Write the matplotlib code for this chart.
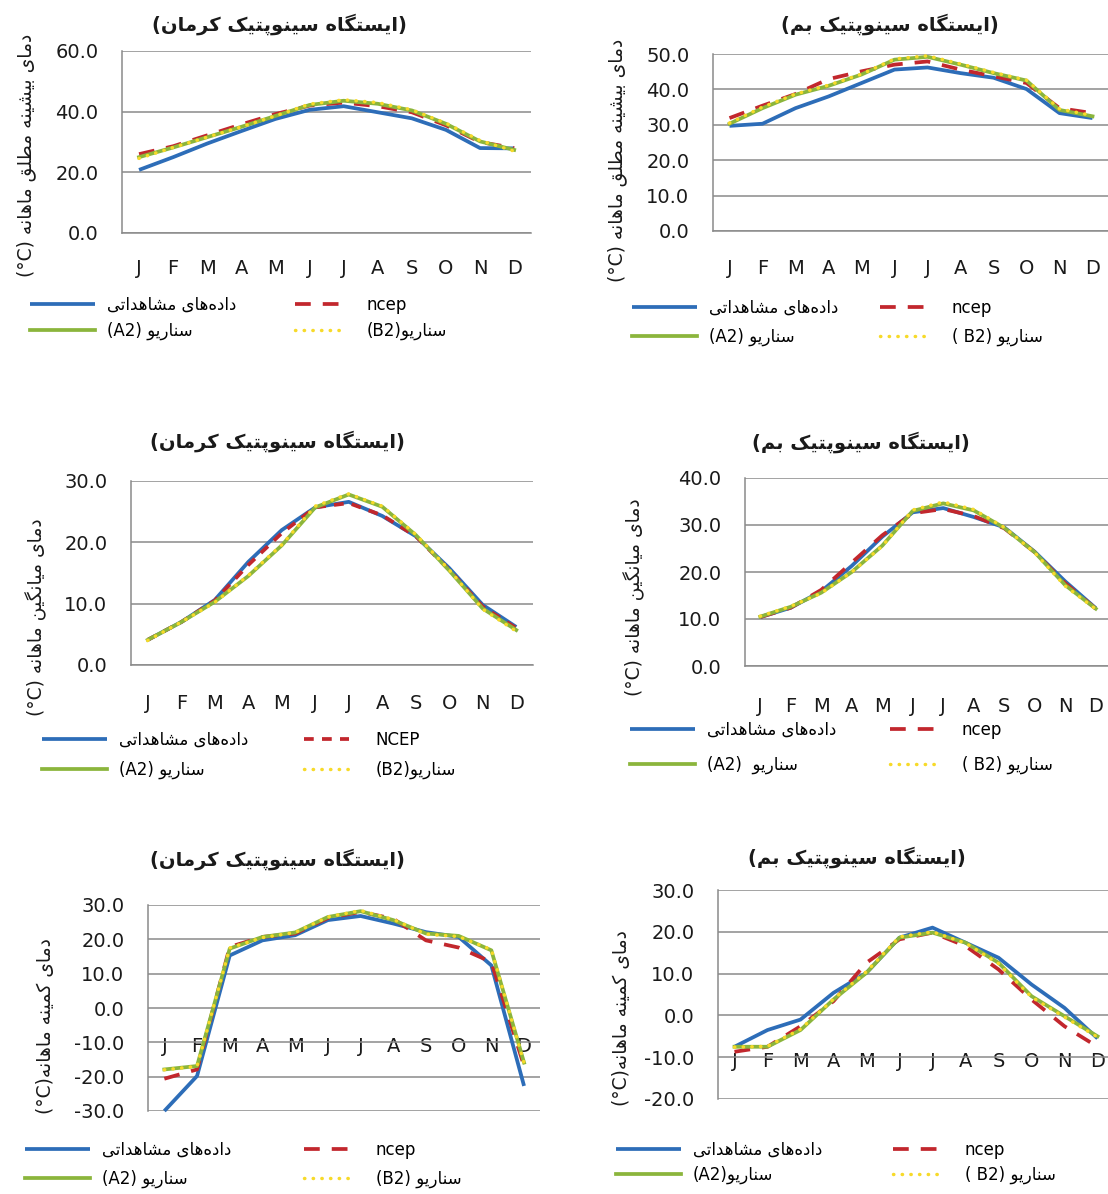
import re
import matplotlib
matplotlib.use("Agg")
import matplotlib.pyplot as plt
from matplotlib.ticker import FormatStrFormatter

plt.rcParams['font.family'] = ['DejaVu Sans']
plt.rcParams['axes.unicode_minus'] = False

# ---------------- data ----------------
months = ['J', 'F', 'M', 'A', 'M', 'J', 'J', 'A', 'S', 'O', 'N', 'D']

kerman_max_obs = [20.8, 25.0, 29.5, 33.6, 37.6, 40.6, 41.8, 39.8, 37.8, 34.0, 28.0, 27.9]
kerman_max_ncep = [26.0, 28.6, 32.2, 35.8, 39.2, 42.0, 43.0, 41.8, 39.8, 35.5, 30.0, 28.0]
kerman_max_a2 = [25.0, 28.2, 31.6, 35.0, 38.6, 42.2, 43.6, 42.6, 40.4, 36.0, 30.2, 27.4]
kerman_max_b2 = [24.6, 28.2, 31.6, 35.0, 38.6, 42.5, 43.9, 43.0, 40.6, 36.2, 30.5, 27.0]

bam_max_obs = [29.7, 30.3, 34.7, 38.0, 41.8, 45.6, 46.2, 44.6, 43.3, 40.1, 33.3, 31.9]
bam_max_ncep = [31.9, 35.4, 38.7, 42.9, 45.1, 47.0, 47.9, 45.6, 43.7, 41.8, 34.7, 33.3]
bam_max_a2 = [30.3, 34.7, 38.5, 41.0, 44.2, 48.4, 49.2, 47.0, 44.6, 42.5, 34.2, 32.4]
bam_max_b2 = [30.5, 35.0, 38.7, 41.2, 44.3, 48.6, 49.5, 47.2, 44.8, 42.6, 34.5, 32.6]

kerman_mean_obs = [4.1, 7.0, 10.6, 16.8, 22.0, 25.7, 26.6, 24.3, 21.0, 15.8, 9.8, 6.2]
kerman_mean_ncep = [4.1, 7.0, 10.5, 16.3, 21.5, 25.7, 26.4, 24.4, 21.0, 15.5, 9.5, 6.0]
kerman_mean_a2 = [4.1, 7.0, 10.3, 14.5, 19.5, 25.7, 27.8, 25.8, 21.2, 15.4, 9.2, 5.7]
kerman_mean_b2 = [4.0, 7.0, 10.2, 14.6, 19.6, 25.9, 27.9, 25.9, 21.3, 15.5, 9.1, 5.5]

bam_mean_obs = [10.4, 12.4, 15.9, 21.3, 27.5, 32.7, 33.6, 31.7, 29.5, 24.3, 18.0, 12.3]
bam_mean_ncep = [10.4, 12.4, 16.2, 22.0, 27.8, 32.5, 33.4, 31.9, 29.3, 24.2, 17.6, 12.2]
bam_mean_a2 = [10.5, 12.6, 15.6, 20.0, 25.6, 33.0, 34.6, 33.1, 29.4, 24.2, 17.2, 12.2]
bam_mean_b2 = [10.6, 12.7, 15.5, 20.0, 25.5, 33.2, 34.9, 33.3, 29.5, 24.1, 17.0, 12.1]

kerman_min_obs = [-30.0, -19.8, 15.3, 19.7, 21.2, 25.6, 26.8, 24.6, 22.1, 20.7, 12.4, -22.7]
kerman_min_ncep = [-20.6, -17.9, 17.8, 20.7, 21.7, 26.2, 28.0, 26.0, 19.7, 17.6, 13.4, -16.9]
kerman_min_a2 = [-17.9, -16.9, 17.3, 20.7, 22.0, 26.5, 28.2, 25.6, 21.7, 21.0, 16.8, -15.9]
kerman_min_b2 = [-18.0, -17.0, 17.5, 20.5, 22.0, 26.5, 28.4, 25.8, 21.5, 20.8, 17.0, -16.0]

bam_min_obs = [-7.5, -3.5, -1.0, 5.4, 10.2, 18.6, 21.0, 17.4, 13.8, 7.4, 1.8, -5.5]
bam_min_ncep = [-8.7, -7.5, -2.6, 3.4, 12.6, 18.2, 19.8, 16.6, 11.0, 3.8, -2.6, -7.5]
bam_min_a2 = [-7.5, -7.5, -3.5, 3.8, 10.2, 18.6, 19.8, 17.4, 12.6, 4.6, -0.2, -5.0]
bam_min_b2 = [-7.6, -7.4, -3.3, 3.9, 10.5, 18.8, 20.0, 17.3, 12.4, 4.4, -0.4, -5.2]

title_kerman = "(ایستگاه سینوپتیک کرمان)"
title_bam = "(ایستگاه سینوپتیک بم)"
ylabel_max = "دمای بیشینه مطلق ماهانه (C°)"
ylabel_mean = "دمای میانگین ماهانه (C°)"
ylabel_min = "دمای کمینه ماهانه(C°)"
label_obs = "داده\u200cهای مشاهداتی"

yticks_kerman_max = [0, 20, 40, 60]
yticks_bam_max = [0, 10, 20, 30, 40, 50]
yticks_kerman_mean = [0, 10, 20, 30]
yticks_bam_mean = [0, 10, 20, 30, 40]
yticks_kerman_min = [-30, -20, -10, 0, 10, 20, 30]
yticks_bam_min = [-20, -10, 0, 10, 20, 30]

# ---------------- Persian shaping helper ----------------
FORMS = {
    '\u0627': ('\uFE8D', '\uFE8E'),
    '\u0628': ('\uFE8F', '\uFE90', '\uFE91', '\uFE92'),
    '\u067E': ('\uFB56', '\uFB57', '\uFB58', '\uFB59'),
    '\u062A': ('\uFE95', '\uFE96', '\uFE97', '\uFE98'),
    '\u062F': ('\uFEA9', '\uFEAA'),
    '\u0631': ('\uFEAD', '\uFEAE'),
    '\u0632': ('\uFEAF', '\uFEB0'),
    '\u0633': ('\uFEB1', '\uFEB2', '\uFEB3', '\uFEB4'),
    '\u0634': ('\uFEB5', '\uFEB6', '\uFEB7', '\uFEB8'),
    '\u0637': ('\uFEC1', '\uFEC2', '\uFEC3', '\uFEC4'),
    '\u0642': ('\uFED5', '\uFED6', '\uFED7', '\uFED8'),
    '\u06A9': ('\uFB8E', '\uFB8F', '\uFB90', '\uFB91'),
    '\u06AF': ('\uFB92', '\uFB93', '\uFB94', '\uFB95'),
    '\u0644': ('\uFEDD', '\uFEDE', '\uFEDF', '\uFEE0'),
    '\u0645': ('\uFEE1', '\uFEE2', '\uFEE3', '\uFEE4'),
    '\u0646': ('\uFEE5', '\uFEE6', '\uFEE7', '\uFEE8'),
    '\u0647': ('\uFEE9', '\uFEEA', '\uFEEB', '\uFEEC'),
    '\u0648': ('\uFEED', '\uFEEE'),
    '\u06CC': ('\uFBFC', '\uFBFD', '\uFBFE', '\uFBFF'),
}


def shape(s):
    s = s.replace('\u064A', '\u06CC').replace('\u0643', '\u06A9')
    out = []
    for i, c in enumerate(s):
        f = FORMS.get(c)
        if f is None:
            out.append(c)
            continue
        prev = s[i - 1] if i > 0 else None
        nxt = s[i + 1] if i + 1 < len(s) else None
        jp = prev in FORMS and len(FORMS[prev]) == 4
        jn = len(f) == 4 and nxt in FORMS
        if jp and jn:
            out.append(f[3])
        elif jp:
            out.append(f[1])
        elif jn:
            out.append(f[2])
        else:
            out.append(f[0])
    return ''.join(out)


def rtl(s):
    shaped = shape(s)
    tokens = re.findall(r'[A-Za-z0-9]+|[^A-Za-z0-9]+', shaped)
    mirror = str.maketrans('()', ')(')
    if all(re.match(r'[A-Za-z0-9]', t) for t in tokens):
        return shaped
    res = []
    for t in reversed(tokens):
        if re.match(r'[A-Za-z0-9]', t):
            res.append(t)
        else:
            res.append(t[::-1].translate(mirror))
    return ''.join(res).replace('\u200c', '')


# ---------------- layout ----------------
W, H = 1108, 1194
fig = plt.figure(figsize=(W / 100, H / 100), dpi=100)

COL_OBS = '#2d6db8'
COL_NCEP = '#c2272d'
COL_A2 = '#8bb53c'
COL_B2 = '#f7da2a'
GRID = '#8a8a8a'

panels = [
    dict(obs=kerman_max_obs, ncep=kerman_max_ncep, a2=kerman_max_a2, b2=kerman_max_b2,
         yt=yticks_kerman_max, title=title_kerman, ylabel=ylabel_max,
         ncep_lab="ncep", a2_lab="سناریو (A2)", b2_lab="سناریو(B2)", dash=(4.2, 3.2),
         left=122, top=51, bottom=233, sp=34.1, xpad=19, mid=False,
         tpos=(279, 24), ypos=(26, 155), leg=(30, 295, 296), lsp=0.45),
    dict(obs=bam_max_obs, ncep=bam_max_ncep, a2=bam_max_a2, b2=bam_max_b2,
         yt=yticks_bam_max, title=title_bam, ylabel=ylabel_max,
         ncep_lab="ncep", a2_lab="سناریو (A2)", b2_lab="سناریو (B2 )", dash=(4.2, 3.2),
         left=713, top=54, bottom=231, sp=33.0, xpad=20.5, mid=False,
         tpos=(890, 24), ypos=(617, 160), leg=(632, 880, 299), lsp=0.65),
    dict(obs=kerman_mean_obs, ncep=kerman_mean_ncep, a2=kerman_mean_a2, b2=kerman_mean_b2,
         yt=yticks_kerman_mean, title=title_kerman, ylabel=ylabel_mean,
         ncep_lab="NCEP", a2_lab="سناریو (A2)", b2_lab="سناریو(B2)", dash=(2.6, 2.2),
         left=131, top=481, bottom=665, sp=33.5, xpad=21, mid=False,
         tpos=(277, 441), ypos=(36, 617), leg=(42, 304, 731), lsp=0.7),
    dict(obs=bam_mean_obs, ncep=bam_mean_ncep, a2=bam_mean_a2, b2=bam_mean_b2,
         yt=yticks_bam_mean, title=title_bam, ylabel=ylabel_mean,
         ncep_lab="ncep", a2_lab="سناریو  (A2)", b2_lab="سناریو (B2 )", dash=(4.2, 3.2),
         left=745, top=478, bottom=666, sp=30.5, xpad=22, mid=False,
         tpos=(861, 442), ypos=(634, 597), leg=(630, 890, 721), lsp=1.0),
    dict(obs=kerman_min_obs, ncep=kerman_min_ncep, a2=kerman_min_a2, b2=kerman_min_b2,
         yt=yticks_kerman_min, title=title_kerman, ylabel=ylabel_min,
         ncep_lab="ncep", a2_lab="سناریو (A2)", b2_lab="سناریو (B2)", dash=(4.2, 3.2),
         left=148, top=905, bottom=1111, sp=32.7, xpad=-3.5, mid=True,
         tpos=(277, 859), ypos=(46, 1026), leg=(25, 304, 1141), lsp=0.65),
    dict(obs=bam_min_obs, ncep=bam_min_ncep, a2=bam_min_a2, b2=bam_min_b2,
         yt=yticks_bam_min, title=title_bam, ylabel=ylabel_min,
         ncep_lab="ncep", a2_lab="سناریو(A2)", b2_lab="سناریو (B2 )", dash=(4.2, 3.2),
         left=718, top=890, bottom=1099, sp=33.0, xpad=-3.5, mid=True,
         tpos=(857, 857), ypos=(621, 1018), leg=(616, 893, 1141), lsp=0.4),
]

x = list(range(len(months)))

for p in panels:
    ax = fig.add_axes([p['left'] / W, 1 - p['bottom'] / H,
                       12 * p['sp'] / W, (p['bottom'] - p['top']) / H])
    ax.set_xlim(-0.5, 11.5)
    ax.set_ylim(p['yt'][0], p['yt'][-1])
    ax.set_yticks(p['yt'])
    ax.yaxis.set_major_formatter(FormatStrFormatter('%.1f'))
    ax.set_xticks(x)
    ax.set_xticklabels(months)
    ax.yaxis.grid(True, color=GRID, lw=1.1)
    ax.set_axisbelow(True)
    for s in ('top', 'right'):
        ax.spines[s].set_visible(False)
    ax.spines['left'].set_color(GRID)
    ax.spines['left'].set_linewidth(1.1)
    ax.spines['bottom'].set_color(GRID)
    ax.spines['bottom'].set_linewidth(1.1)
    if p['mid']:
        ax.spines['bottom'].set_position(('data', -10))
        ax.spines['bottom'].set_visible(False)
    ax.tick_params(axis='x', length=0, pad=p['xpad'], labelsize=14, colors='#1a1a1a')
    ax.tick_params(axis='y', length=0, pad=17, labelsize=14, colors='#1a1a1a')

    l_obs, = ax.plot(x, p['obs'], color=COL_OBS, lw=2.7, solid_capstyle='butt', clip_on=False, zorder=3)
    l_ncep, = ax.plot(x, p['ncep'], color=COL_NCEP, lw=2.7, linestyle=(0, p['dash']),
                      clip_on=False, zorder=4)
    l_a2, = ax.plot(x, p['a2'], color=COL_A2, lw=2.7, clip_on=False, zorder=5)
    l_b2, = ax.plot(x, p['b2'], color=COL_B2, lw=2.5, linestyle=(0, (0.1, 2.4)),
                    dash_capstyle='round', clip_on=False, zorder=6)

    fig.text(p['tpos'][0] / W, 1 - p['tpos'][1] / H, rtl(p['title']),
             ha='center', va='center', fontsize=14, fontweight='bold', color='#1a1a1a')
    fig.text(p['ypos'][0] / W, 1 - p['ypos'][1] / H, rtl(p['ylabel']),
             ha='center', va='center', rotation=90, fontsize=13.5, color='#1a1a1a')

    c1x, c2x, ty = p['leg']
    leg1 = fig.legend([l_obs, l_a2], [rtl(label_obs), rtl(p['a2_lab'])],
                      loc='upper left', bbox_to_anchor=(c1x / W, 1 - ty / H),
                      frameon=False, fontsize=12, handlelength=3.9, handletextpad=0.7,
                      borderpad=0, borderaxespad=0, labelspacing=p['lsp'])
    leg2 = fig.legend([l_ncep, l_b2], [rtl(p['ncep_lab']), rtl(p['b2_lab'])],
                      loc='upper left', bbox_to_anchor=(c2x / W, 1 - ty / H),
                      frameon=False, fontsize=12, handlelength=2.7, handletextpad=1.6,
                      borderpad=0, borderaxespad=0, labelspacing=p['lsp'])

fig.savefig('out.png', dpi=100, facecolor='white')
